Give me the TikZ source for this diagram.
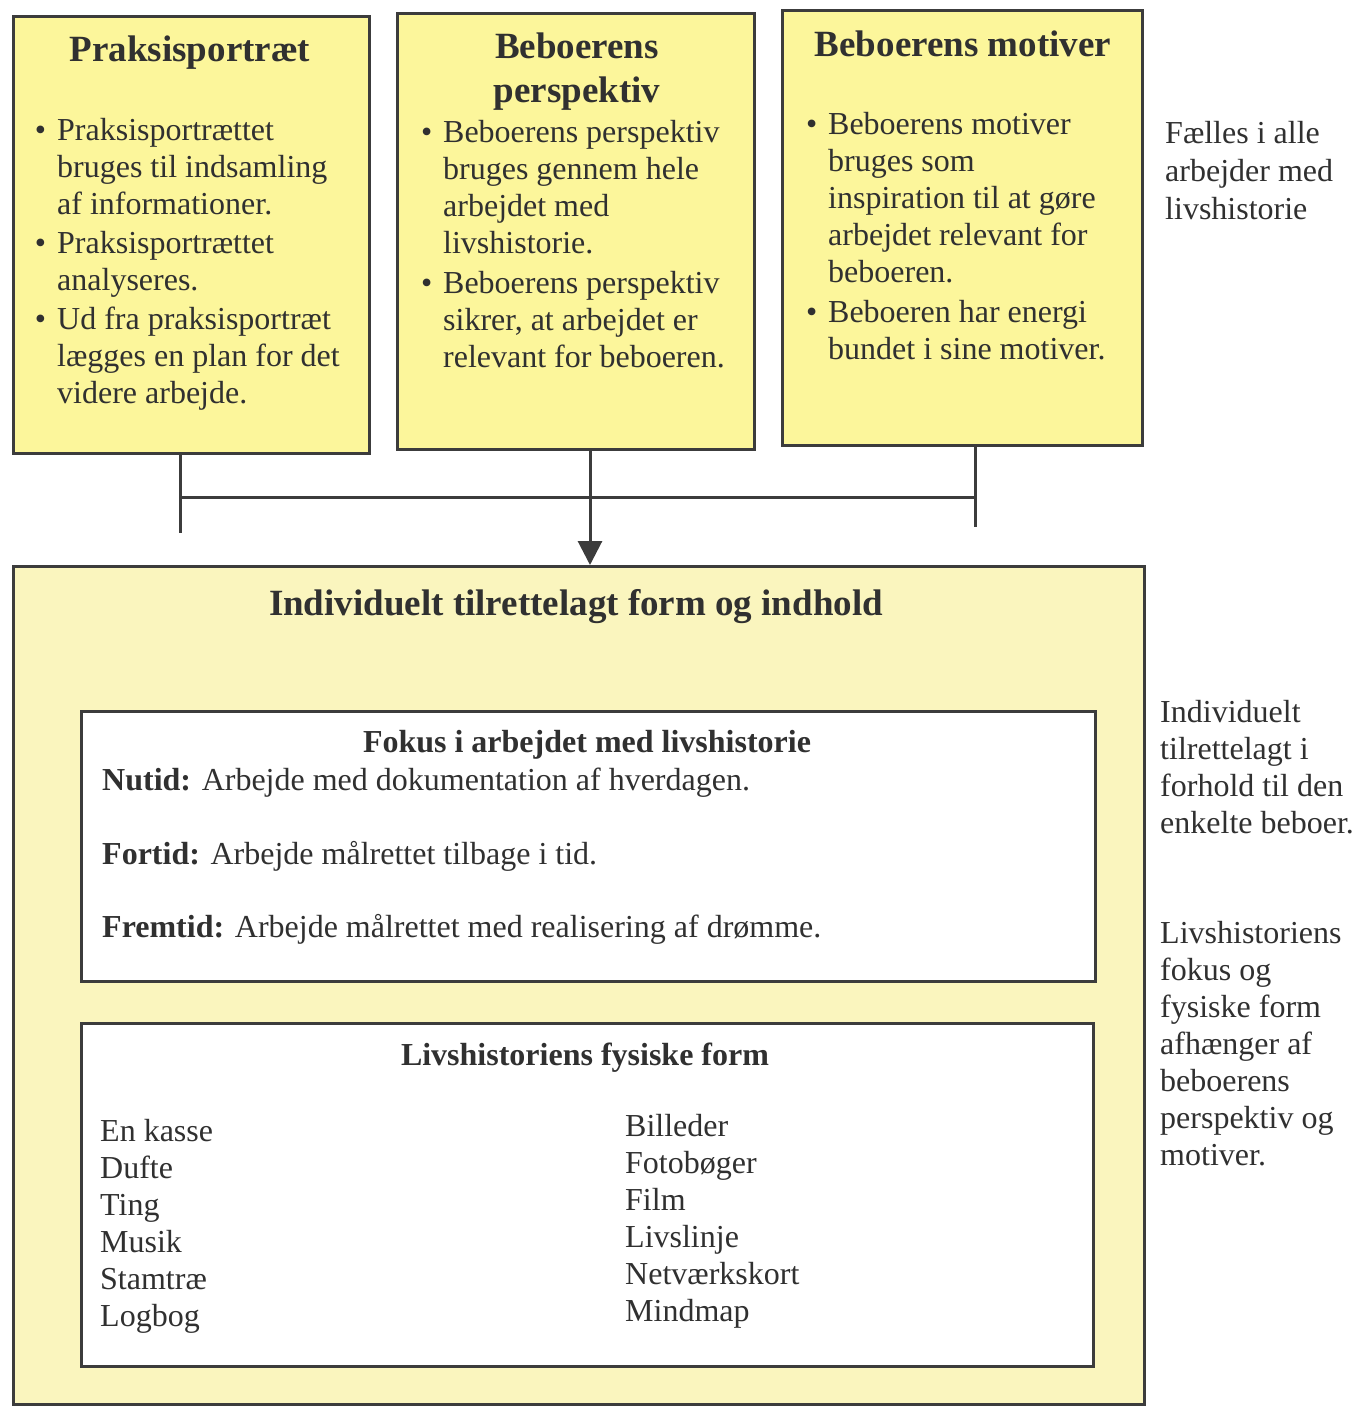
\documentclass[tikz,border=0pt]{standalone}
\usepackage{fontspec}
\setmainfont{Liberation Serif}
\usetikzlibrary{arrows.meta}
\definecolor{ink}{RGB}{48,48,48}
\definecolor{frame}{RGB}{60,60,60}
\definecolor{topyel}{RGB}{252,246,155}
\definecolor{lowyel}{RGB}{250,245,190}
\tikzset{
  box/.style={draw=frame, line width=3pt, inner sep=0pt, anchor=north west},
  txt/.style={inner sep=0pt, anchor=north west, align=left, text=ink, font=\fontsize{32}{37}\selectfont},
  hdr/.style={inner sep=0pt, anchor=north, align=center, text=ink, font=\bfseries\fontsize{37}{44}\selectfont},
  conn/.style={draw=frame, line width=3pt},
}
\newcommand{\bul}{\llap{\textbullet\hspace{11pt}}}
\begin{document}
\begin{tikzpicture}[x=1pt,y=-1pt]
\useasboundingbox (0,0) rectangle (1356,1406);
% top boxes
\node[box, fill=topyel, minimum width=356pt, minimum height=437pt] (b1) at (12,15) {};
\node[box, fill=topyel, minimum width=357pt, minimum height=436pt] (b2) at (396,12) {};
\node[box, fill=topyel, minimum width=360pt, minimum height=435pt] (b3) at (781,9) {};
% bottom big box
\node[box, fill=lowyel, minimum width=1131pt, minimum height=838pt] (big) at (12,565) {};
\node[box, fill=white, minimum width=1014pt, minimum height=270pt] (fok) at (80,710) {};
\node[box, fill=white, minimum width=1012pt, minimum height=343pt] (fys) at (80,1022) {};
% headers
\node[hdr] (h1) at (190,36) {Praksisportræt};
\node[hdr] (h2) at (577,33) {Beboerens\\perspektiv};
\node[hdr] (h3) at (963,31) {Beboerens motiver};
% bullets
\node[txt] (t1) at (57,118) {\bul Praksisportrættet\\bruges til indsamling\\af informationer.\\[2pt]\bul Praksisportrættet\\analyseres.\\[2pt]\bul Ud fra praksisportræt\\lægges en plan for det\\videre arbejde.};
\node[txt] (t2) at (443,120) {\bul Beboerens perspektiv\\bruges gennem hele\\arbejdet med\\livshistorie.\\[3pt]\bul Beboerens perspektiv\\sikrer, at arbejdet er\\relevant for beboeren.};
\node[txt] (t3) at (828,112) {\bul Beboerens motiver\\bruges som\\inspiration til at gøre\\arbejdet relevant for\\beboeren.\\[3pt]\bul Beboeren har energi\\bundet i sine motiver.};
% side notes
\node[txt, font=\fontsize{32}{38}\selectfont] (s1) at (1165,121) {Fælles i alle\\arbejder med\\livshistorie};
\node[txt] (s2) at (1160,700) {Individuelt\\tilrettelagt i\\forhold til den\\enkelte beboer.};
\node[txt] (s3) at (1160,921) {Livshistoriens\\fokus og\\fysiske form\\afhænger af\\beboerens\\perspektiv og\\motiver.};
% big box title
\node[hdr, font=\bfseries\fontsize{37}{44}\selectfont] (bt) at (576,589) {Individuelt tilrettelagt form og indhold};
% focus box
\node[hdr, font=\bfseries\fontsize{32}{38}\selectfont] (fh) at (587,730) {Fokus i arbejdet med livshistorie};
\node[txt] (f1) at (102,768) {\textbf{Nutid:} Arbejde med dokumentation af hverdagen.\\[37pt]\textbf{Fortid:} Arbejde målrettet tilbage i tid.\\[36pt]\textbf{Fremtid:} Arbejde målrettet med realisering af drømme.};
% physical form box
\node[hdr, font=\bfseries\fontsize{32}{38}\selectfont] (ph) at (585,1043) {Livshistoriens fysiske form};
\node[txt] (pl) at (100,1119) {En kasse\\Dufte\\Ting\\Musik\\Stamtræ\\Logbog};
\node[txt] (pr) at (625,1114) {Billeder\\Fotobøger\\Film\\Livslinje\\Netværkskort\\Mindmap};
% connectors
\coordinate (l1) at (180,533);
\coordinate (r1) at (975,527);
\coordinate (hl) at (180,497);
\coordinate (hr) at (975,497);
\draw[conn] (b1.south -| l1) -- (l1);
\draw[conn] (b3.south -| r1) -- (r1);
\draw[conn] (hl) -- (hr);
\draw[conn, -{Triangle[length=24pt,width=24pt]}] (b2.south -| 590,0) -- (big.north -| 590,0);
\end{tikzpicture}
\end{document}
